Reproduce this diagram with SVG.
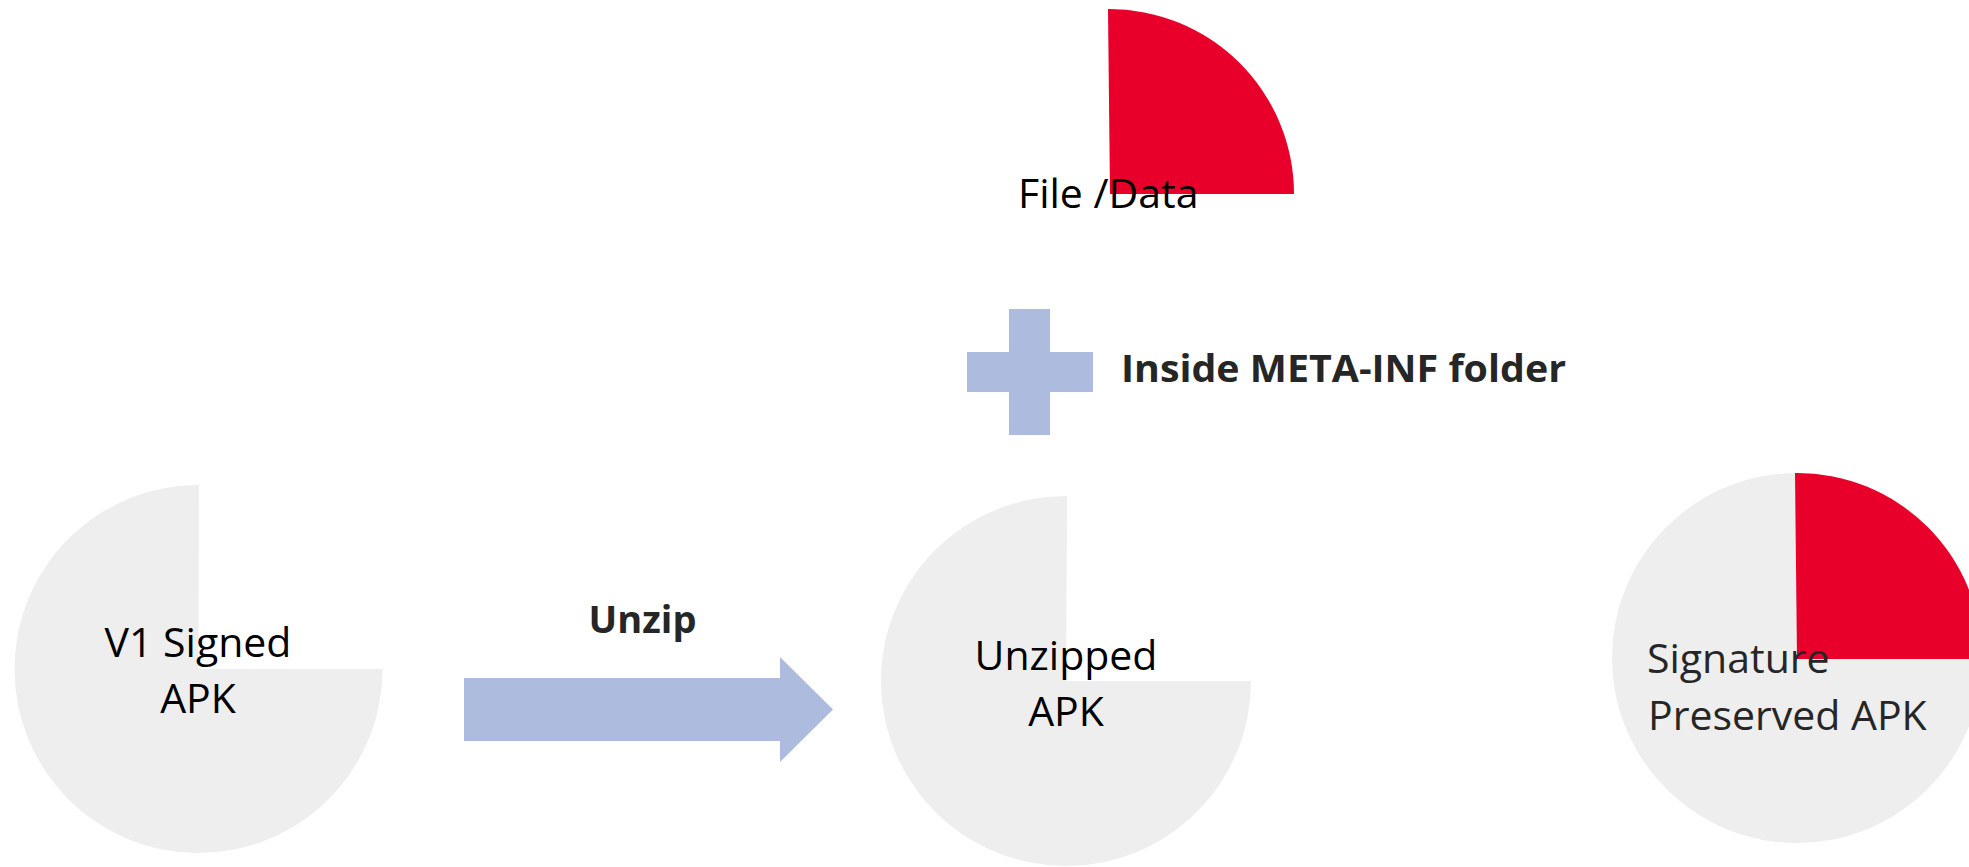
<svg xmlns="http://www.w3.org/2000/svg" width="1969" height="867" viewBox="0 0 1969 867">
<style>
.disk{fill:#EEEEEE}
.red{fill:#E8002B}
.blue{fill:#ADBBDF}
.lbl{font-family:"Open Sans","Liberation Sans",sans-serif;font-size:41px;fill:#000}
.lbl2{font-family:"Open Sans","Liberation Sans",sans-serif;font-size:41px;fill:#262626}
.bold{font-family:"Open Sans","Liberation Sans",sans-serif;font-weight:bold;font-size:38px;fill:#262626}
</style>
<rect width="1969" height="867" fill="#FFFFFF"/>
<g id="connectors">
<path class="blue" d="M464,678 L780,678 L780,657 L833,709.5 L780,762 L780,741 L464,741 Z"/>
<text class="bold" x="642.5" y="633" text-anchor="middle">Unzip</text>
</g>
<g id="node-v1-signed-apk">
<path class="disk" d="M199,485 L198.5,669 L382.5,669 A184,184 0 1 1 199,485 Z"/>
<text class="lbl" x="198" y="657" text-anchor="middle">V1 Signed</text>
<text class="lbl" x="198" y="713" text-anchor="middle">APK</text>
</g>
<g id="node-unzipped-apk">
<path class="disk" d="M1067,496 L1066,681 L1251,681 A185,185 0 1 1 1067,496 Z"/>
<text class="lbl" x="1066" y="670" text-anchor="middle">Unzipped</text>
<text class="lbl" x="1066" y="726" text-anchor="middle">APK</text>
</g>
<g id="node-file-data">
<path class="red" d="M1108,9 A185,185 0 0 1 1294,194 L1110,194 Z"/>
<text class="lbl" x="1018" y="208">File /Data</text>
</g>
<g id="node-plus">
<path class="blue" d="M1009,309 L1050,309 L1050,352 L1093,352 L1093,392 L1050,392 L1050,435 L1009,435 L1009,392 L967,392 L967,352 L1009,352 Z"/>
<text class="bold" x="1121" y="382" textLength="445" lengthAdjust="spacingAndGlyphs">Inside META-INF folder</text>
</g>
<g id="node-signature-preserved-apk">
<circle class="disk" cx="1797" cy="658" r="185"/>
<path class="red" d="M1795,473 A185,185 0 0 1 1982,659 L1797,659 Z"/>
<text class="lbl2" x="1647" y="673">Signature</text>
<text class="lbl2" x="1648" y="730">Preserved APK</text>
</g>
</svg>
